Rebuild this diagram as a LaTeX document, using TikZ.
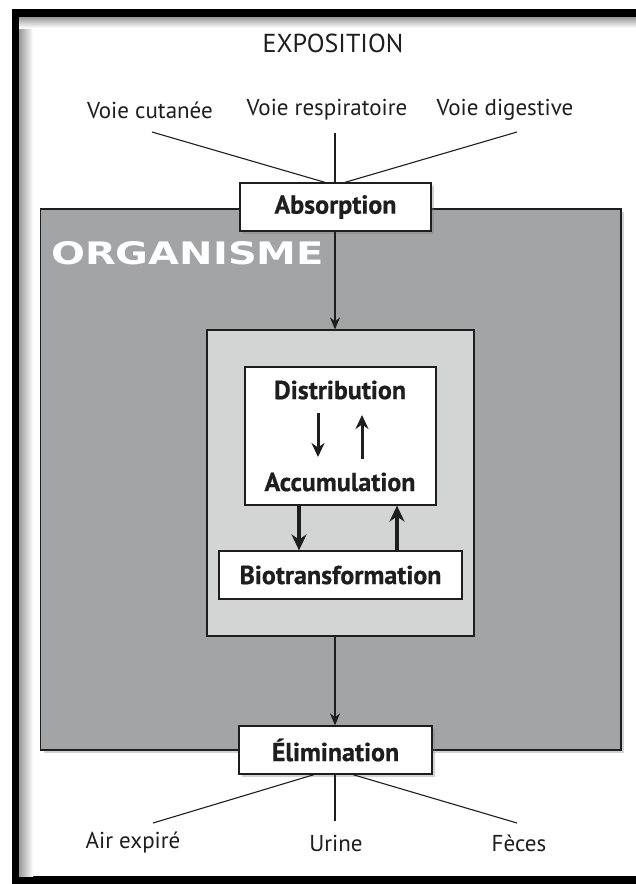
\documentclass[tikz,border=0pt]{standalone}
\usepackage{fontspec}
\usepackage{graphicx}
\setmainfont{PT Sans}
\newfontfamily\orgfont{DejaVu Sans}
\newfontfamily\heavyfont[FakeBold=0.6]{PT Sans Bold}
\usetikzlibrary{arrows.meta,shadows}
\definecolor{orggray}{HTML}{A3A4A6}
\definecolor{innergray}{HTML}{D3D5D5}
\definecolor{ink}{HTML}{1E1E1E}
\tikzset{
  lbl/.style={text=ink, font=\fontsize{23}{26}\selectfont, inner sep=0pt},
  boxlbl/.style={draw=ink, line width=1.3pt, fill=white, text=ink, font=\heavyfont\fontsize{26}{29}\selectfont, inner sep=0pt,
     drop shadow={shadow xshift=3pt, shadow yshift=-3pt, opacity=0.35}},
  boldtxt/.style={text=ink, font=\heavyfont\fontsize{26}{29}\selectfont, inner sep=0pt},
  thin/.style={draw=ink, line width=1.1pt},
  mainarrow/.style={draw=ink, line width=1.2pt, -{Stealth[length=12pt,width=10pt]}},
  smallarrow/.style={draw=ink, line width=3pt, -{Stealth[length=14pt,width=13pt]}},
  thickarrow/.style={draw=ink, line width=4pt, -{Stealth[length=16pt,width=15pt]}},
}
\begin{document}
\begin{tikzpicture}[x=1pt,y=-1pt]
\useasboundingbox (0,0) rectangle (636,884);
% outer frame
\fill[black] (12,9) rectangle (636,884);
\fill[white] (19,17) rectangle (636,876);
\shade[left color=black!40, right color=white] (19,17) rectangle (33,876);
\shade[top color=black!40, bottom color=white] (19,17) rectangle (636,28);

% EXPOSITION
\node[lbl, font=\fontsize{26}{30}\selectfont] (expo) at (333,43) {EXPOSITION};
\node[lbl] (vc) at (150,110) {Voie cutanée};
\node[lbl] (vr) at (327,110) {Voie respiratoire};
\node[lbl] (vd) at (505,110) {Voie digestive};
\coordinate (c1) at (152,132);
\coordinate (c2) at (335,133);
\coordinate (c3) at (517,132);

% organisme
\node[draw=ink, line width=1.8pt, fill=orggray, minimum width=580.5pt, minimum height=541pt, inner sep=0pt,
  drop shadow={shadow xshift=3pt, shadow yshift=-3pt, opacity=0.35}] (org) at (330.75,479.5) {};
\node[text=white, inner sep=0pt] (orglbl) at (187.5,253) {\scalebox{1.29}[1]{\orgfont\fontsize{31}{34}\selectfont\bfseries ORGANISME}};

% inner box
\node[draw=ink, line width=1.2pt, fill=innergray, minimum width=267pt, minimum height=306pt, inner sep=0pt] (inner) at (340.5,483) {};
\node[draw=ink, line width=1.2pt, fill=white, minimum width=191pt, minimum height=138pt, inner sep=0pt] (dist) at (340.5,436) {};
\node[boldtxt] (dtxt) at (340,390) {Distribution};
\node[boldtxt] (atxt) at (340,482) {Accumulation};
\coordinate (d1a) at (318,413);
\coordinate (d1b) at (318,457);
\coordinate (d2a) at (362,459);
\coordinate (d2b) at (362,415);
\draw[smallarrow] (d1a) -- (d1b);
\draw[smallarrow] (d2a) -- (d2b);

\node[draw=ink, line width=1.2pt, fill=white, minimum width=243pt, minimum height=48pt, inner sep=0pt, text=ink, font=\heavyfont\fontsize{26}{29}\selectfont] (bio) at (340.5,575) {Biotransformation};
\draw[thickarrow] (dist.south -| 299,0) -- (bio.north -| 299,0);
\draw[thickarrow] (bio.north -| 397,0) -- (dist.south -| 397,0);

% absorption
\node[boxlbl, minimum width=191pt, minimum height=48pt] (abs) at (335.5,207) {Absorption};
\draw[thin] (c1) -- (abs.north -| 325,0);
\draw[thin] (c2) -- (abs.north -| 335,0);
\draw[thin] (c3) -- (abs.north -| 345,0);
\draw[mainarrow] (abs.south -| 335,0) -- (inner.north -| 335,0);

% elimination
\node[boxlbl, minimum width=193pt, minimum height=48pt] (elim) at (335.5,750) {Élimination};
\draw[mainarrow] (inner.south -| 335,0) -- (elim.north -| 335,0);
\node[lbl] (air) at (133,843) {Air expiré};
\node[lbl] (uri) at (336,843) {Urine};
\node[lbl] (fec) at (519,843) {Fèces};
\coordinate (e1) at (153,823);
\coordinate (e2) at (335,821);
\coordinate (e3) at (517,823);
\draw[thin] (elim.south -| 314,0) -- (e1);
\draw[thin] (elim.south -| 335,0) -- (e2);
\draw[thin] (elim.south -| 353,0) -- (e3);
\end{tikzpicture}
\end{document}
